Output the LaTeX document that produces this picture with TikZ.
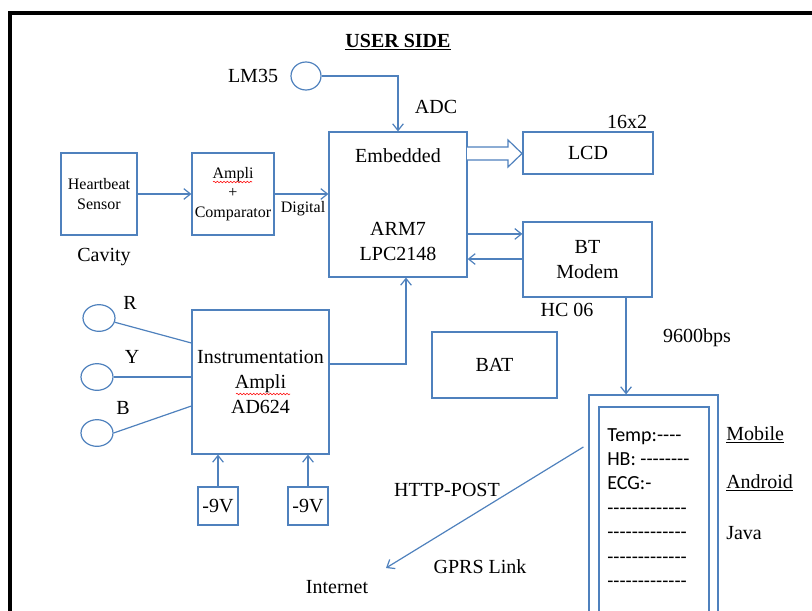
\documentclass[tikz,border=0pt]{standalone}
\usepackage{fontspec}
\setmainfont{Liberation Serif}
\newfontfamily\calib[Ligatures=TeXOff]{Carlito}
\usetikzlibrary{arrows.meta,shapes.geometric,decorations.pathmorphing}
\definecolor{ob}{RGB}{79,129,189}
\begin{document}
\begin{tikzpicture}[x=0.75pt,y=-0.75pt,
  bx/.style={draw=ob,line width=0.9pt,inner sep=0pt,align=center,font=\fontsize{15}{18.75}\selectfont},
  sm/.style={font=\fontsize{12}{14.4}\selectfont},
  lbl/.style={inner sep=0pt,font=\fontsize{15}{18}\selectfont},
  cir/.style={draw=ob,line width=0.9pt,ellipse,inner sep=0pt},
  con/.style={draw=ob,line width=0.9pt},
  arr/.style={con,-{Straight Barb[length=5pt,width=8pt]}},
  squig/.style={draw=red,line width=0.4pt,decorate,decoration={snake,amplitude=0.6pt,segment length=2.5pt}}
]
\useasboundingbox (0,0) rectangle (812,610);
\clip (0,0) rectangle (812,610);
\draw[line width=2.4pt] (10,640) -- (10,13) -- (830,13);

\node[lbl,font=\bfseries\fontsize{15}{18}\selectfont] (title) at (398,42) {\underline{USER SIDE}};
\node[lbl] (lm35t) at (253,76) {LM35};
\node[cir,minimum width=22.5pt,minimum height=21pt] (lm35) at (306,76) {};
\node[lbl] (adc) at (436,107) {ADC};
\node[bx,minimum width=103.5pt,minimum height=108.75pt] (emb) at (398,204.5) {Embedded\\[36pt]ARM7\\LPC2148};
\node[bx,minimum width=97.5pt,minimum height=31.5pt] (lcd) at (588,153) {LCD};
\node[lbl] (t16) at (627,122) {16x2};
\node[bx,minimum width=96.75pt,minimum height=56.25pt] (bt) at (587.5,259.5) {BT\\Modem};
\node[lbl] (hc) at (567,310) {HC 06};
\node[bx,sm,minimum width=57pt,minimum height=61.5pt] (hb) at (99,194) {Heartbeat\\Sensor};
\node[lbl] (cav) at (104,257) {Cavity};
\node[bx,sm,minimum width=61.5pt,minimum height=61.5pt] (amp) at (233,194) {Ampli\\+\\Comparator};
\node[lbl,sm] (dig) at (303,209) {Digital};
\node[bx,minimum width=102.75pt,minimum height=108pt] (ins) at (260.5,382) {Instrumentation\\Ampli\\AD624};
\node[bx,minimum width=30pt,minimum height=28.5pt] (v1) at (218,506) {-9V};
\node[bx,minimum width=30pt,minimum height=28.5pt] (v2) at (308,506) {-9V};
\node[cir,minimum width=24pt,minimum height=20pt] (r) at (99,318) {};
\node[cir,minimum width=24pt,minimum height=20pt] (y) at (97,377) {};
\node[cir,minimum width=24pt,minimum height=20pt] (b) at (97,433) {};
\node[lbl] (rt) at (130,303) {R};
\node[lbl] (yt) at (132,357) {Y};
\node[lbl] (bt2) at (123,408) {B};
\node[bx,minimum width=93.75pt,minimum height=49.5pt] (bat) at (494.5,365) {BAT};
\node[lbl] (bps) at (697,338) {9600bps};
\node[draw=ob,line width=0.9pt,minimum width=96.75pt,minimum height=183.75pt,inner sep=0pt] (phone) at (653.5,517.5) {};
\node[draw=ob,line width=0.9pt,minimum width=82.5pt,minimum height=174.75pt,inner sep=0pt] (scrn) at (654,523.5) {};
\node[anchor=north west,inner sep=0pt,align=left,font=\calib\fontsize{15}{18.3}\selectfont] (scr) at (607,428)
  {Temp:----\\HB: --------\\ECG:-\\-------------\\-------------\\-------------\\-------------};
\node[lbl,anchor=west] (mob) at (726,435) {\underline{Mobile}};
\node[lbl,anchor=west] (andr) at (726,483) {\underline{Android}};
\node[lbl,anchor=west] (java) at (726,533) {Java};
\node[lbl] (http) at (447,490) {HTTP-POST};
\node[lbl] (gprs) at (480,567) {GPRS Link};
\node[lbl] (inet) at (337,587) {Internet};

% connectors
\draw[arr] (lm35.east) -| (emb.north);
\draw[arr] (hb) -- (amp);
\draw[arr] (amp) -- (amp -| emb.west);
\coordinate (e1) at ([yshift=-22.1pt]emb.east);
\coordinate (e2) at ([yshift=-40.9pt]emb.east);
\draw[arr] (e1) -- (e1 -| bt.west);
\draw[arr] (e2 -| bt.west) -- (e2);
\draw[con,fill=white] (467,147) -- (508,147) -- (508,140) -- (522,153.5) -- (508,167) -- (508,160) -- (467,160);
\draw[arr] ([yshift=13.5pt]ins.east) -| ([xshift=6pt]emb.south);
\draw[arr] (v1.north) -- (v1.north |- ins.south);
\draw[arr] (v2.north) -- (v2.north |- ins.south);
\draw[con] (r.-15) -- ([yshift=29.25pt]ins.west);
\draw[con] (y.east) -- (y -| ins.west);
\draw[con] (b.east) -- ([yshift=-18pt]ins.west);
\coordinate (p1) at ([xshift=28.9pt]bt.south);
\draw[arr] (p1) -- (p1 |- phone.north);
\coordinate (g1) at ([xshift=-3.75pt,yshift=52.9pt]phone.west);
\coordinate (g2) at ([xshift=36.75pt,yshift=14.25pt]inet.center);
\draw[arr] (g1) -- (g2);

% spell-check squiggles
\draw[squig] (213,182) -- (252,182);
\draw[squig] (236,394) -- (290,394);
\end{tikzpicture}
\end{document}
